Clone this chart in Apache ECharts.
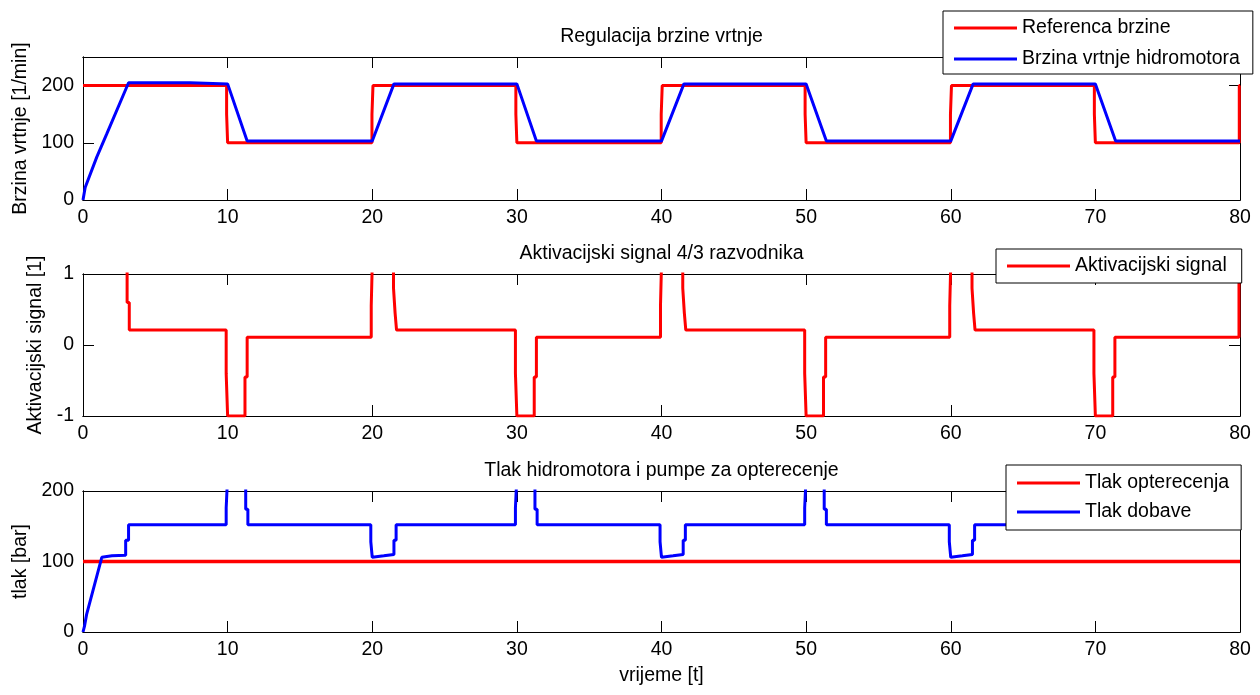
<!DOCTYPE html>
<html><head><meta charset="utf-8">
<script src="https://cdn.jsdelivr.net/npm/echarts@6/dist/echarts.min.js"></script>
<style>html,body{margin:0;padding:0;background:#fff}#c{width:1260px;height:695px}</style>
</head><body><div id="c"></div>
<script>
// ---------- data ----------
const titles = ['Regulacija brzine vrtnje', 'Aktivacijski signal 4/3 razvodnika', 'Tlak hidromotora i pumpe za opterecenje'];
const yNames = ['Brzina vrtnje [1/min]', 'Aktivacijski signal [1]', 'tlak [bar]'];
const xName = 'vrijeme [t]';
const seriesNames = ['Referenca brzine', 'Brzina vrtnje hidromotora', 'Aktivacijski signal', 'Tlak opterecenja', 'Tlak dobave'];

const refT = [0, 9.93, 9.93, 10.0, 10.0, 19.98, 19.98, 20.05, 20.05, 29.93, 29.93, 30.0, 30.0, 39.98, 39.98, 40.05, 40.05, 49.93, 49.93, 50.0, 50.0, 59.98, 59.98, 60.05, 60.05, 69.93, 69.93, 70.0, 70.0, 79.95, 79.95, 80];
const refV = [200, 200, 150, 150, 100, 100, 150, 150, 200, 200, 150, 150, 100, 100, 150, 150, 200, 200, 150, 150, 100, 100, 150, 150, 200, 200, 150, 150, 100, 100, 200, 200];
const spdT = [0, 0.15, 0.95, 1.65, 3.15, 7.4, 7.5, 10.0, 11.35, 20.0, 21.5, 30.0, 31.35, 40.0, 41.55, 50.0, 51.4, 60.0, 61.55, 70.0, 71.4, 80];
const spdV = [0, 22, 75, 116, 205, 205, 203, 203, 103, 103, 203, 203, 103, 103, 203, 203, 103, 103, 203, 203, 103, 103];
const actT = [0, 3.05, 3.05, 3.2, 3.2,
  9.9, 9.9, 10.0, 10.0, 11.2, 11.2, 11.35, 11.35,
  19.93, 19.93, 20.02, 20.02, 21.47, 21.47, 21.58, 21.58, 21.68, 21.68,
  29.9, 29.9, 30.0, 30.0, 31.2, 31.2, 31.35, 31.35,
  39.93, 39.93, 40.02, 40.02, 41.47, 41.47, 41.58, 41.58, 41.68, 41.68,
  49.9, 49.9, 50.0, 50.0, 51.2, 51.2, 51.35, 51.35,
  59.93, 59.93, 60.02, 60.02, 61.47, 61.47, 61.58, 61.58, 61.68, 61.68,
  69.9, 69.9, 70.0, 70.0, 71.2, 71.2, 71.35, 71.35,
  79.93, 79.93, 80];
const actV = [1.3, 1.3, 0.6, 0.6, 0.21,
  0.21, -0.4, -0.4, -1, -1, -0.45, -0.45, 0.11,
  0.11, 0.55, 0.55, 1.3, 1.3, 0.8, 0.8, 0.45, 0.45, 0.21,
  0.21, -0.4, -0.4, -1, -1, -0.45, -0.45, 0.11,
  0.11, 0.55, 0.55, 1.3, 1.3, 0.8, 0.8, 0.45, 0.45, 0.21,
  0.21, -0.4, -0.4, -1, -1, -0.45, -0.45, 0.11,
  0.11, 0.55, 0.55, 1.3, 1.3, 0.8, 0.8, 0.45, 0.45, 0.21,
  0.21, -0.4, -0.4, -1, -1, -0.45, -0.45, 0.11,
  0.11, 1.3, 1.3];
const loadT = [0, 80];
const loadV = [100, 100];
const supT = [0, 0.1, 0.25, 1.3, 2.0, 2.95, 2.95, 3.15, 3.15,
  9.9, 9.9, 10.02, 10.02, 11.25, 11.25, 11.4, 11.4,
  19.9, 19.9, 20.0, 20.0, 20.8, 21.5, 21.5, 21.65, 21.65,
  29.9, 29.9, 30.02, 30.02, 31.25, 31.25, 31.4, 31.4,
  39.9, 39.9, 40.0, 40.0, 40.8, 41.5, 41.5, 41.65, 41.65,
  49.9, 49.9, 50.02, 50.02, 51.25, 51.25, 51.4, 51.4,
  59.9, 59.9, 60.0, 60.0, 60.8, 61.5, 61.5, 61.65, 61.65,
  69.9, 69.9, 70.02, 70.02, 71.25, 71.25, 71.4, 71.4,
  80];
const supV = [0, 8, 25, 106, 108, 109, 130, 130, 152,
  152, 176, 176, 230, 230, 174, 174, 152,
  152, 128, 128, 106, 108, 110, 130, 130, 152,
  152, 176, 176, 230, 230, 174, 174, 152,
  152, 128, 128, 106, 108, 110, 130, 130, 152,
  152, 176, 176, 230, 230, 174, 174, 152,
  152, 128, 128, 106, 108, 110, 130, 130, 152,
  152, 176, 176, 230, 230, 174, 174, 152,
  152];
const xRange = [0, 80, 10];
const yRanges = [[0, 250, 100], [-1, 1, 1], [0, 200, 100]];

// ---------- chart ----------
const FONT = 'Liberation Sans';
const FS = 19.5;
const BLACK = '#000';
const zip = (t, v) => t.map((x, i) => [x, v[i]]);
const grids = [
  {left: 83, top: 57, width: 1157, height: 143},
  {left: 83, top: 274, width: 1157, height: 142},
  {left: 83, top: 491, width: 1157, height: 141}
].map(g => Object.assign(g, {containLabel: false, outerBoundsMode: 'none'}));

const txt = () => ({fontSize: FS, color: BLACK, fontFamily: FONT});
const lineSt = () => ({show: true, onZero: false, lineStyle: {color: BLACK, width: 1}});
const tickOn = () => ({show: true, inside: true, length: 11, interval: 0, lineStyle: {color: BLACK, width: 1}});
const tickOff = () => ({show: false});
const xAxis = [], yAxis = [];
function xa(g, pos, extra) {
  return Object.assign({
    gridIndex: g, type: 'value', position: pos, min: xRange[0], max: xRange[1], interval: xRange[2],
    axisLine: lineSt(), splitLine: {show: false}, axisLabel: {show: false}, axisTick: tickOff()
  }, extra);
}
function ya(g, pos, extra) {
  const yr = yRanges[g];
  return Object.assign({
    gridIndex: g, type: 'value', position: pos, min: yr[0], max: yr[1], interval: yr[2],
    axisLine: lineSt(), splitLine: {show: false}, axisLabel: {show: false}, axisTick: tickOff()
  }, extra);
}
for (let g = 0; g < 3; g++) {
  // x axes: labels/name, ticks (bottom); title, ticks (top)
  xAxis.push(xa(g, 'bottom', {
    axisLabel: Object.assign(txt(), {margin: 8}),
    name: g === 2 ? xName : '', nameLocation: 'middle', nameGap: 34, nameTextStyle: txt()
  }));
  xAxis.push(xa(g, 'bottom', {axisTick: tickOn()}));
  xAxis.push(xa(g, 'top', {name: titles[g], nameLocation: 'middle', nameGap: 10, nameTextStyle: txt()}));
  xAxis.push(xa(g, 'top', {axisTick: tickOn()}));
  // y axes: labels/name, ticks (left); ticks (right)
  yAxis.push(ya(g, 'left', {
    axisLabel: Object.assign(txt(), {margin: 9, showMaxLabel: g !== 0}),
    name: yNames[g], nameLocation: 'middle', nameGap: [49, 32, 50][g], nameTextStyle: txt()
  }));
  yAxis.push(ya(g, 'left', {axisTick: tickOn()}));
  yAxis.push(ya(g, 'right', {axisTick: tickOn()}));
}

function line(name, data, color, g, width) {
  return {
    name, type: 'line', data, xAxisIndex: g * 4, yAxisIndex: g * 3,
    symbol: 'none', showSymbol: false, clip: true, animation: false, z: 1,
    lineStyle: {color, width: width || 3}, itemStyle: {color}
  };
}

const legendBase = () => ({
  orient: 'vertical', icon: 'rect', itemWidth: 63, itemHeight: 3,
  backgroundColor: '#fff', borderColor: BLACK, borderWidth: 1, borderRadius: 0,
  textStyle: Object.assign(txt(), {lineHeight: 22}), selectedMode: false, z: 10
});

const option = {
  animation: false,
  grid: grids,
  xAxis, yAxis,
  legend: [
    Object.assign(legendBase(), {data: [seriesNames[0], seriesNames[1]], left: 943, top: 11, padding: [6, 13, 4, 11], itemGap: 9}),
    Object.assign(legendBase(), {data: [seriesNames[2]], left: 996, top: 249, padding: [6, 15, 6, 11]}),
    Object.assign(legendBase(), {data: [seriesNames[3], seriesNames[4]], left: 1006, top: 465, padding: [7, 12, 7, 11], itemGap: 7})
  ],
  series: [
    line(seriesNames[0], zip(refT, refV), '#ff0000', 0),
    line(seriesNames[1], zip(spdT, spdV), '#0000ff', 0),
    line(seriesNames[2], zip(actT, actV), '#ff0000', 1),
    line(seriesNames[3], zip(loadT, loadV), '#ff0000', 2, 3.5),
    line(seriesNames[4], zip(supT, supV), '#0000ff', 2)
  ]
};
const chart = echarts.init(document.getElementById('c'), null, {renderer: 'canvas'});
chart.setOption(option);
</script>
</body></html>
